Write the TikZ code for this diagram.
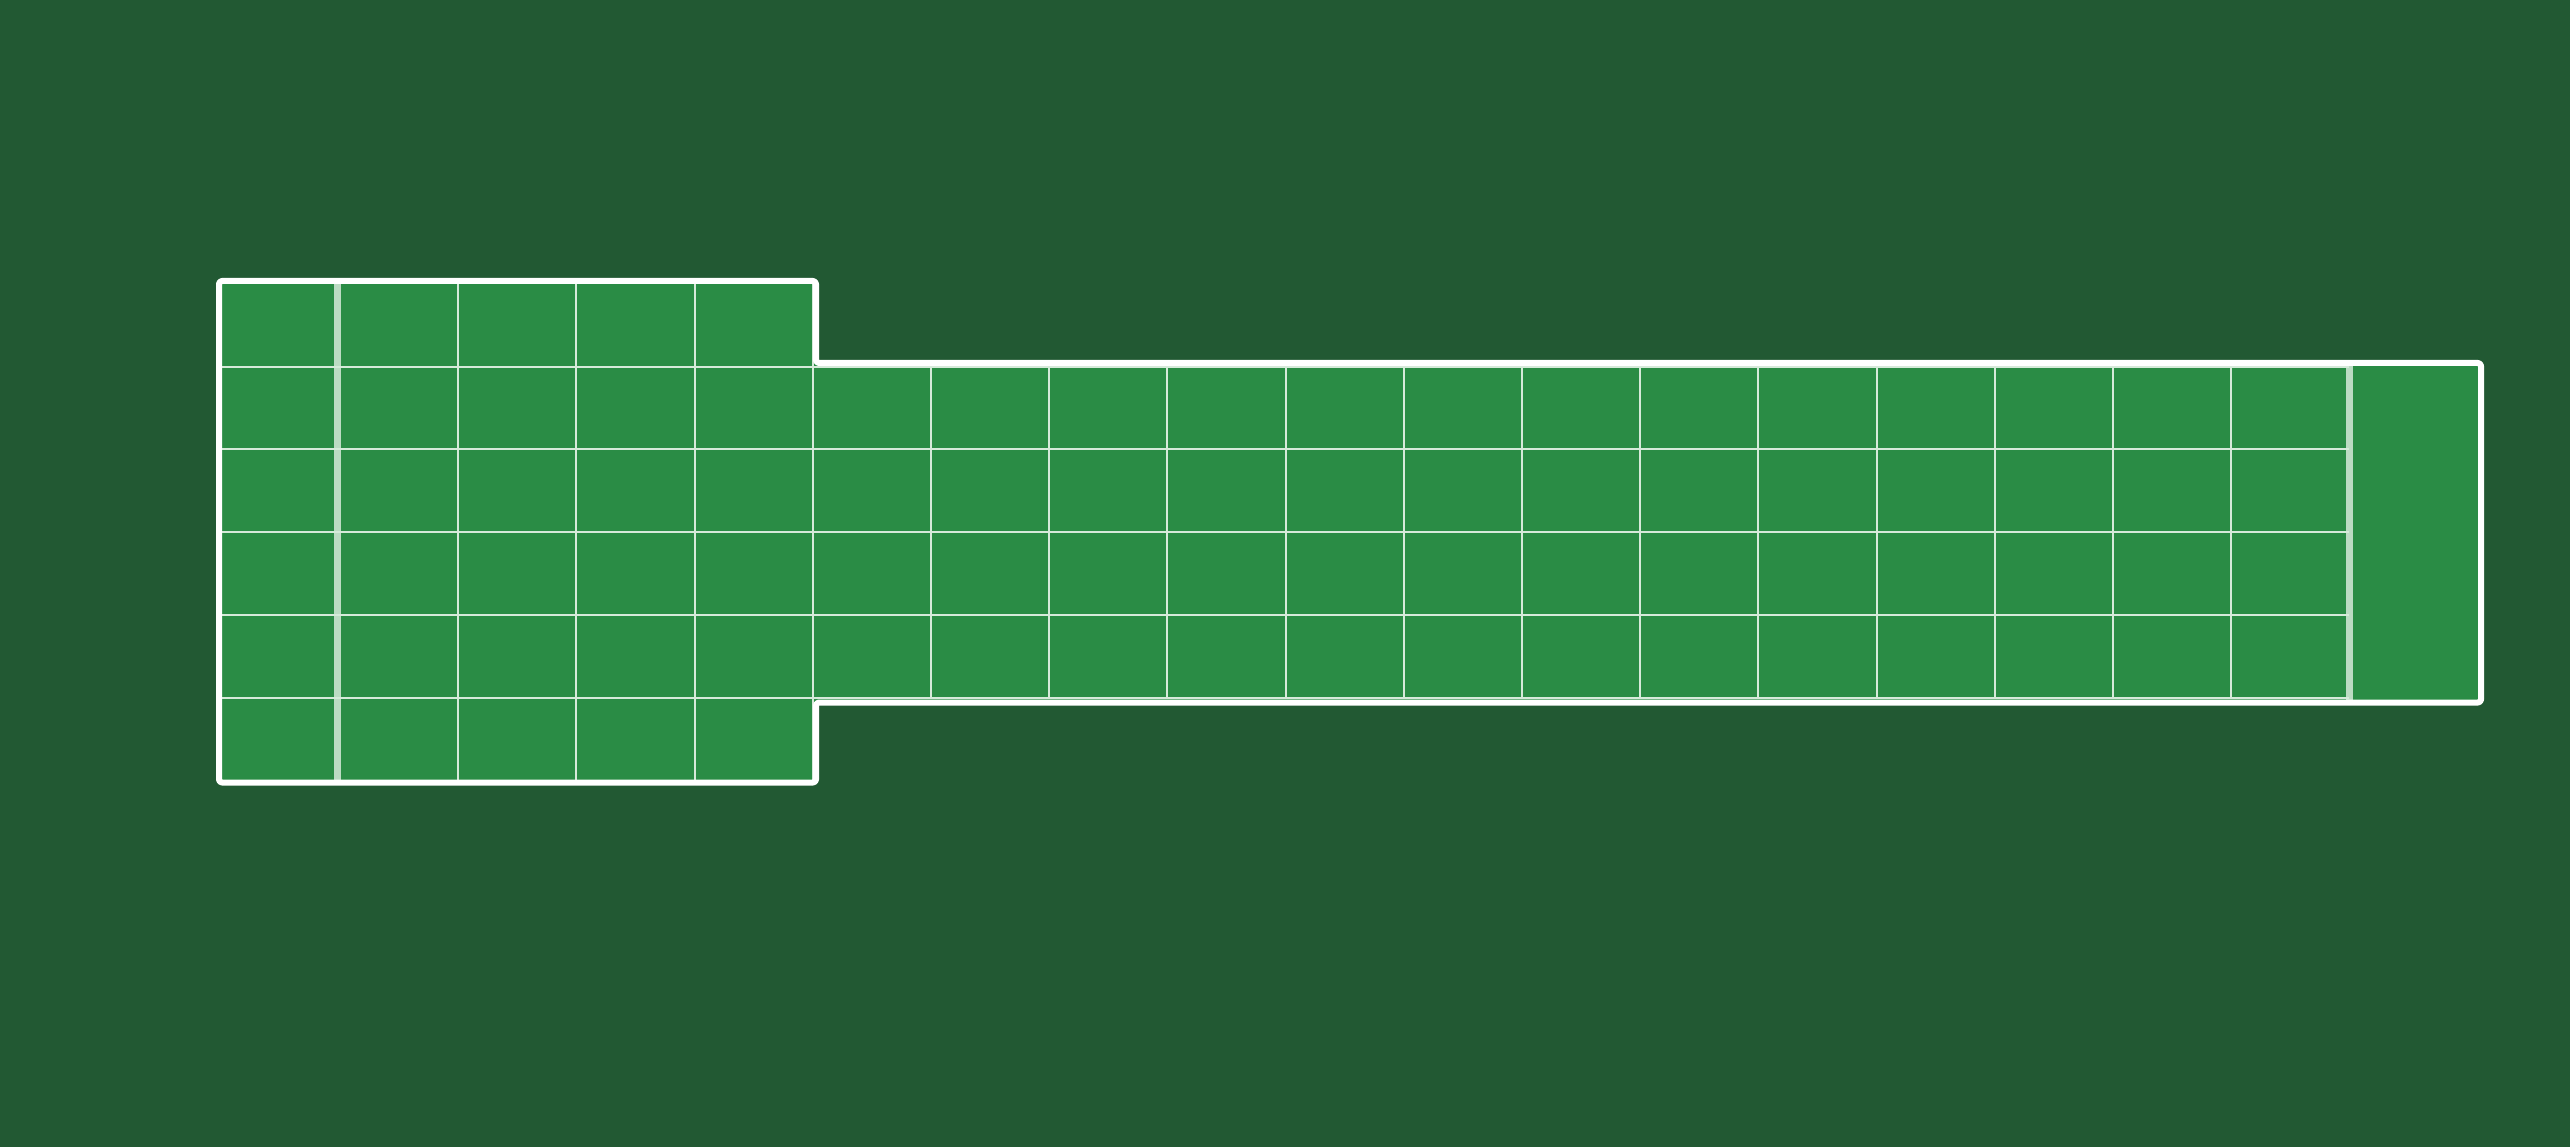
\documentclass[tikz,border=0pt]{standalone}
\definecolor{pitchbg}{RGB}{34,89,51}
\definecolor{pitchgreen}{RGB}{42,140,69}
\definecolor{gridline}{RGB}{214,234,218}
\begin{document}
\begin{tikzpicture}[x=1pt, y=-1pt,
  outline/.style={draw=white, line width=6pt, rounded corners=3pt, line join=round},
  cellline/.style={draw=gridline, line width=2pt},
  markline/.style={draw=gridline, line width=7pt, opacity=0.85}]
  \fill[pitchbg] (0,0) rectangle (2570,1147);
  \fill[pitchgreen] (219,281) -- (816,281) -- (816,363) -- (2481,363) -- (2481,702.5)
    -- (816,702.5) -- (816,782.5) -- (219,782.5) -- cycle;
  % rows
  \foreach \y in {366.7,449.3,532,614.7,697.7}
    \draw[cellline] (222,\y) -- (2349,\y);
  % columns, wide part
  \foreach \x in {458.1,576.3,694.5,812.7}
    \draw[cellline] (\x,284) -- (\x,780);
  % columns, long part
  \foreach \k in {1,...,12}
    \draw[cellline] (812.7+118.2*\k,366.7) -- (812.7+118.2*\k,697.7);
  % end lines
  \draw[markline] (337.5,284) -- (337.5,780);
  \draw[markline] (2349,366) -- (2349,700);
  % border
  \draw[outline] (219,281) -- (816,281) -- (816,363) -- (2481,363) -- (2481,702.5)
    -- (816,702.5) -- (816,782.5) -- (219,782.5) -- cycle;
\end{tikzpicture}
\end{document}
